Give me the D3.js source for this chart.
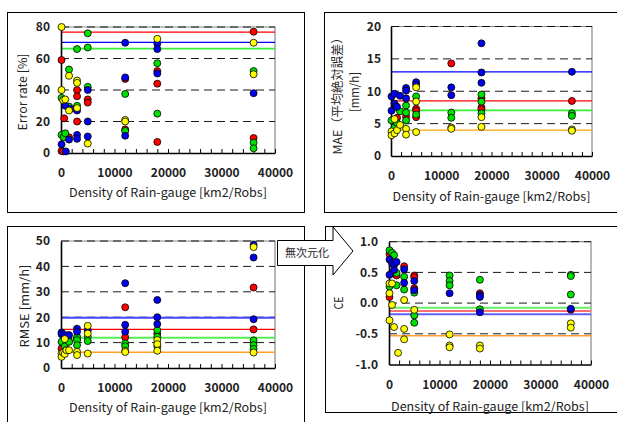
<!DOCTYPE html>
<html><head><meta charset="utf-8">
<script src="https://cdn.jsdelivr.net/npm/d3@7"></script>
<style>body{margin:0;background:#fff} svg{display:block}</style>
</head><body><svg id="c" width="617" height="422"></svg>
<script>
// ---------- DATA ----------
const xTickValues = [0, 10000, 20000, 30000, 40000];
const xMinorTicks = d3.range(0, 40001, 2000);
const xTitle = "Density of Rain-gauge [km2/Robs]";

// Error rate [%]
const errTicks = [0, 20, 40, 60, 80];
const errRef = [76.8, 70.3, 66.3];          // red, blue, green
const errRed = [[100,59],[100,1.3],[600,22],[400,1],[1500,10],[3000,40],[3000,36],[3000,20],[5000,34],[5000,32],[12000,47],[12000,15],[18000,52],[18000,44],[18000,7],[36000,77],[36000,9.5]];
const errGreen = [[100,35],[100,11.5],[500,10],[800,12.5],[1500,53],[1500,29.5],[3000,66],[3000,30],[5000,76],[5000,67],[5000,42],[12000,37.5],[12000,14],[18000,57],[18000,25],[36000,52],[36000,6.5],[36000,3]];
const errBlue = [[100,5.5],[800,30],[900,1],[1500,8.5],[1800,28],[3000,27],[3000,11.5],[3000,9],[5000,40],[5000,20],[5000,10.5],[12000,70],[12000,48],[12000,11],[18000,69.5],[18000,66],[18000,50.5],[36000,38]];
const errYellow = [[100,80],[100,40],[400,33.5],[800,34],[1500,49],[1500,27],[3000,46],[3000,44.5],[3000,28.5],[5000,6],[12000,21],[12000,20],[18000,72.5],[36000,70],[36000,50]];

// MAE [mm/h]
const maeTicks = [0, 5, 10, 15, 20];
const maeRef = [8.5, 13.0, 7.05, 4.0];     // red, blue, green, orange
const maeRed = [[700,5.0],[1200,5.9],[3000,6.1],[5000,7.3],[5000,7.0],[5000,6.0],[12000,14.3],[18000,8.9],[18000,7.5],[18000,7.2],[36000,8.5]];
const maeGreen = [[100,5.5],[700,4.4],[1200,5.1],[1800,6.9],[3000,7.8],[3000,6.7],[3000,5.5],[5000,9.2],[5000,6.4],[12000,6.7],[12000,5.9],[18000,9.5],[18000,8.4],[18000,6.6],[36000,6.6],[36000,6.2]];
const maeBlue = [[100,9.2],[100,7.0],[700,9.6],[700,8.1],[900,7.7],[1200,7.6],[1800,9.3],[3000,10.5],[3000,10.1],[3000,8.9],[5000,11.4],[5000,11.0],[12000,10.6],[12000,9.4],[18000,17.4],[18000,12.9],[18000,11.3],[36000,13.0]];
const maeYellow = [[100,3.8],[100,3.2],[700,5.7],[700,3.5],[1200,4.0],[1800,4.8],[3000,4.2],[3000,3.3],[5000,10.6],[5000,8.4],[5000,3.7],[12000,4.4],[12000,4.2],[18000,6.0],[18000,4.5],[36000,4.1],[36000,3.9]];

// RMSE [mm/h]
const rmseTicks = [0, 10, 20, 30, 40, 50];
const rmseRef = [15.2, 19.8, 11.9, 6.2];   // red, blue, green, orange
const rmseRed = [[100,7.7],[700,9.7],[1500,10.5],[3000,11.5],[12000,23.9],[12000,12.1],[18000,13.6],[36000,31.7],[36000,15.2]];
const rmseGreen = [[100,10.3],[700,8.5],[1000,7],[1500,10.3],[3000,12.3],[3000,11],[3000,9],[5000,12.3],[5000,10.6],[12000,9.7],[12000,8.6],[18000,14.9],[18000,12.3],[18000,8.5],[36000,10.9],[36000,9.0],[36000,7.5]];
const rmseBlue = [[100,14],[100,13.3],[700,13],[1500,13],[3000,15.5],[3000,14.3],[5000,14.9],[12000,33.4],[12000,17],[12000,14.3],[18000,26.8],[18000,20],[18000,17.3],[36000,48.5],[36000,43.5],[36000,19.2]];
const rmseYellow = [[100,5.7],[100,4.4],[400,6],[700,11.4],[700,5.5],[1000,7],[1500,7.0],[3000,6.4],[3000,5.1],[5000,16.6],[5000,13.6],[5000,5.7],[12000,6.8],[12000,6.3],[18000,11],[18000,9.4],[18000,6.8],[36000,47.6],[36000,6.1]];

// CE
const ceTicks = [-1, -0.5, 0, 0.5, 1];
const ceRef = [-0.13, -0.18, -0.077, -0.53]; // red, blue, green, orange
const ceRed = [[100,0.80],[100,0.10],[1000,0.48],[1500,0.45],[3000,0.60],[5000,0.45],[5000,0.42],[5000,0.24],[18000,0.16],[36000,-0.11]];
const ceGreen = [[100,0.86],[600,0.82],[1000,0.78],[1000,0.51],[1500,0.49],[1500,0.29],[100,0.27],[3000,0.43],[3000,0.22],[5000,0.17],[5000,-0.20],[5000,-0.32],[12000,0.45],[12000,0.36],[12000,0.29],[18000,0.38],[18000,-0.10],[36000,0.46],[36000,0.44],[36000,0.14]];
const ceBlue = [[100,0.71],[100,0.46],[600,0.65],[1000,0.62],[1000,0.54],[1500,0.67],[3000,0.55],[3000,0.33],[5000,0.36],[5000,0.21],[12000,0.16],[18000,0.13],[18000,0.10],[18000,-0.15],[36000,-0.09]];
const ceYellow = [[100,0.32],[100,0.16],[100,-0.28],[600,0.32],[600,-0.03],[1000,-0.39],[1800,-0.81],[3000,0.05],[3000,-0.42],[3000,-0.59],[5000,-0.11],[12000,-0.51],[12000,-0.69],[12000,-0.72],[18000,-0.69],[18000,-0.74],[36000,-0.33],[36000,-0.40]];

const arrowLabel = "無次元化";

// ---------- STYLE ----------
const FONT = "'Noto Sans CJK JP', 'Noto Sans', sans-serif";
const dotColors = { red: "#ff0000", green: "#00e000", blue: "#0000ee", yellow: "#ffff00" };
const svg = d3.select("#c");

// outer boxes
[[7.5,12.5,297,200],[324.5,12.5,300,200],[7.5,226.5,297,210],[325.5,226.5,300,186]].forEach(b=>{
  svg.append("rect").attr("x",b[0]).attr("y",b[1]).attr("width",b[2]).attr("height",b[3])
    .attr("fill","none").attr("stroke","#000").attr("stroke-width",1);
});

function panel(cfg) {
  const x = d3.scaleLinear().domain([0, 40000]).range([cfg.x0, cfg.x1]);
  const y = d3.scaleLinear().domain([cfg.ticks[0], cfg.ticks[cfg.ticks.length-1]]).range([cfg.yb, cfg.yt]);
  const g = svg.append("g");
  // frame top/right
  g.append("path").attr("d", `M${x(0)},${y.range()[1]}H${x(40000)}V${y.range()[0]}`)
    .attr("fill","none").attr("stroke","#888").attr("stroke-width",1.2);
  // dashed grid
  g.selectAll("line.grid").data(cfg.grid).join("line").attr("class","grid")
    .attr("x1", x(0)).attr("x2", x(40000)).attr("y1", d=>y(d)).attr("y2", d=>y(d))
    .attr("stroke","#000").attr("stroke-width",0.9).attr("stroke-dasharray","8,5");
  // reference lines
  g.selectAll("line.ref").data(cfg.ref).join("line").attr("class","ref")
    .attr("x1", x(0)).attr("x2", x(40000)).attr("y1", d=>y(d)).attr("y2", d=>y(d))
    .attr("stroke", (d,i)=>cfg.refColors[i]).attr("stroke-width",(d,i)=>cfg.refWidths[i]);
  // x axis minor ticks (inward)
  const xa = g.append("g").attr("transform",`translate(0,${cfg.yb})`)
    .call(d3.axisBottom(x).tickValues(xMinorTicks).tickSize(-4).tickSizeOuter(0).tickFormat(""));
  xa.select(".domain").attr("stroke","#000").attr("stroke-width",1.6);
  xa.selectAll(".tick line").attr("stroke","#000");
  // x labels
  const xl = g.append("g").attr("transform",`translate(0,${cfg.yb})`)
    .call(d3.axisBottom(x).tickValues(xTickValues).tickSize(0).tickFormat(d3.format("d")));
  xl.select(".domain").remove();
  xl.selectAll("text").attr("y", null).attr("dy", null)
    .attr("transform", `translate(0,${cfg.xLabY - cfg.yb})`)
    .attr("font-family", FONT).attr("font-size", 12).attr("font-weight","bold").attr("fill","#222");
  // y axis
  const ya = g.append("g").attr("transform",`translate(${cfg.x0},0)`)
    .call(d3.axisLeft(y).tickValues(cfg.ticks).tickSize(0).tickPadding(cfg.yPad).tickFormat(cfg.fmt));
  ya.select(".domain").attr("stroke","#000").attr("stroke-width",1.6);
  ya.selectAll("text").attr("font-family", FONT).attr("font-size", 12).attr("font-weight","bold").attr("fill","#222");
  // points
  const series = [[cfg.red,"red"],[cfg.green,"green"],[cfg.blue,"blue"],[cfg.yellow,"yellow"]];
  series.forEach(([data,c])=>{
    g.append("g").selectAll("circle").data(data).join("circle")
      .attr("cx", d=>x(d[0])).attr("cy", d=>y(d[1])).attr("r", 3.5)
      .attr("fill", dotColors[c]).attr("stroke","#000").attr("stroke-width",0.8);
  });
  // x title
  g.append("text").attr("x",(cfg.x0+cfg.x1)/2).attr("y",cfg.xTitleY).attr("text-anchor","middle")
    .attr("font-family",FONT).attr("font-size",12).attr("fill","#222")
    .attr("textLength",198).attr("lengthAdjust","spacingAndGlyphs").text(xTitle);
  // y titles
  cfg.yTitles.forEach(t=>{
    g.append("text").attr("transform",`translate(${t.x},${t.y}) rotate(-90)`)
      .attr("text-anchor","middle").attr("dy","0.35em")
      .attr("font-family",FONT).attr("font-size",12).attr("fill","#222")
      .attr("textLength",t.len).attr("lengthAdjust","spacingAndGlyphs").text(t.s);
  });
}

const fmtInt = d3.format("d");
const fmtCE = d => d.toFixed(1);

panel({x0:61, x1:275, yb:153, yt:27, ticks:errTicks, grid:[20,40,60,80], fmt:fmtInt, yPad:11,
  ref:errRef, refColors:["#ff0000","#0000ff","#33ee33"], refWidths:[1.3,1.3,1.6],
  red:errRed, green:errGreen, blue:errBlue, yellow:errYellow, xLabY:177, xTitleY:197,
  yTitles:[{x:23,y:92,len:77,s:"Error rate [%]"}]});

panel({x0:391, x1:592, yb:156, yt:26.5, ticks:maeTicks, grid:[5,10,15,20], fmt:fmtInt, yPad:10,
  ref:maeRef, refColors:["#ff0000","#0000ff","#33ee33","#ffa500"], refWidths:[1.3,1.3,1.6,1.4],
  red:maeRed, green:maeGreen, blue:maeBlue, yellow:maeYellow, xLabY:180, xTitleY:201,
  yTitles:[{x:338,y:93,len:123,s:"MAE（平均絶対誤差）"},{x:355,y:92,len:40,s:"[mm/h]"}]});

panel({x0:61, x1:275, yb:368, yt:241, ticks:rmseTicks, grid:[10,20,30,40,50], fmt:fmtInt, yPad:11,
  ref:rmseRef, refColors:["#ff0000","#4444ff","#55ee55","#ffa020"], refWidths:[1.3,2,2,1.3],
  red:rmseRed, green:rmseGreen, blue:rmseBlue, yellow:rmseYellow, xLabY:392, xTitleY:412,
  yTitles:[{x:25,y:306,len:83,s:"RMSE [mm/h]"}]});

panel({x0:389, x1:591, yb:364.5, yt:241.7, ticks:ceTicks, grid:[-0.5,0,0.5,1], fmt:fmtCE, yPad:11,
  ref:ceRef, refColors:["#ff7070","#6060ff","#66ee66","#ffa030"], refWidths:[2,2,2,1.5],
  red:ceRed, green:ceGreen, blue:ceBlue, yellow:ceYellow, xLabY:389, xTitleY:411,
  yTitles:[{x:339,y:303,len:13,s:"CE"}]});

// arrow
svg.append("path").attr("d","M277.5,240.5H333V227L353,251L333,275V265.5H277.5Z")
  .attr("fill","#fff").attr("stroke","#000").attr("stroke-width",1);
svg.append("text").attr("x",307).attr("y",256.5).attr("text-anchor","middle")
  .attr("font-family",FONT).attr("font-size",11).attr("fill","#222").text(arrowLabel);
</script>
</body></html>
